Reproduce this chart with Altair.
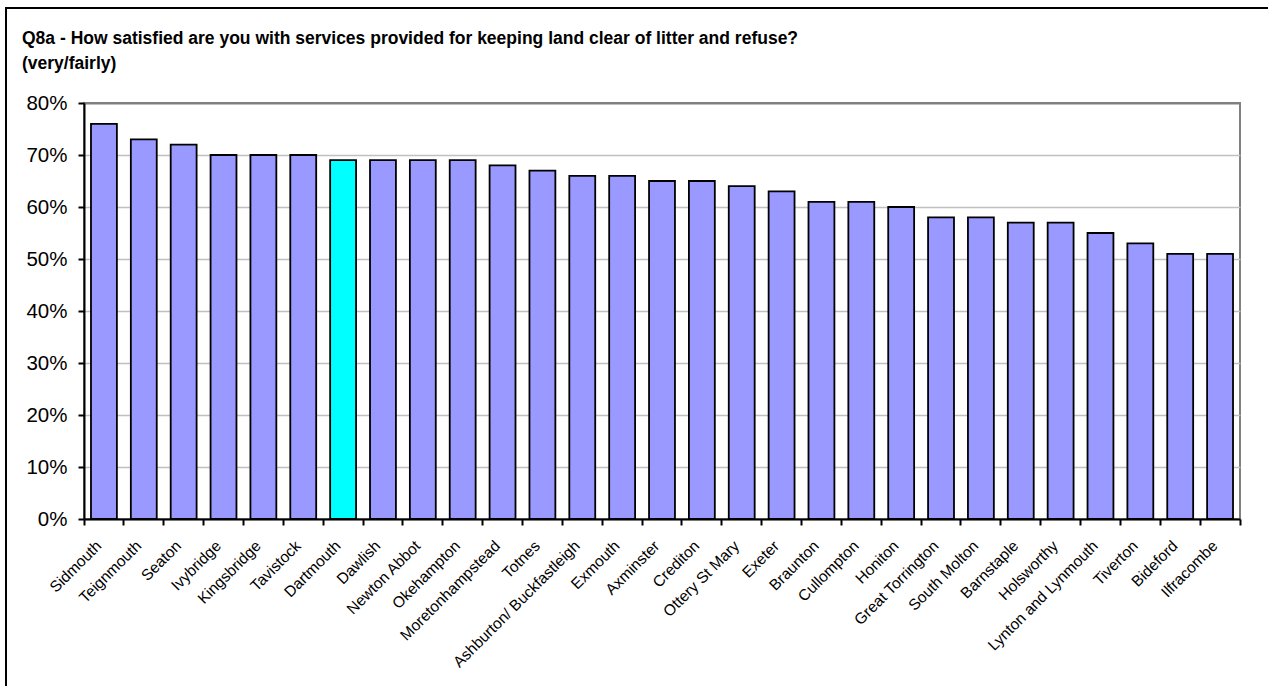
import altair as alt
import pandas as pd

# Survey results: share of respondents very/fairly satisfied, by town
towns = [
    "Sidmouth", "Teignmouth", "Seaton", "Ivybridge", "Kingsbridge", "Tavistock",
    "Dartmouth", "Dawlish", "Newton Abbot", "Okehampton", "Moretonhampstead",
    "Totnes", "Ashburton/ Buckfastleigh", "Exmouth", "Axminster", "Crediton",
    "Ottery St Mary", "Exeter", "Braunton", "Cullompton", "Honiton",
    "Great Torrington", "South Molton", "Barnstaple", "Holsworthy",
    "Lynton and Lynmouth", "Tiverton", "Bideford", "Ilfracombe",
]
satisfied_pct = [
    76, 73, 72, 70, 70, 70,
    69, 69, 69, 69, 68,
    67, 66, 66, 65, 65,
    64, 63, 61, 61, 60,
    58, 58, 57, 57,
    55, 53, 51, 51,
]
highlight_town = "Dartmouth"
y_ticks = [0, 0.1, 0.2, 0.3, 0.4, 0.5, 0.6, 0.7, 0.8]
title_lines = [
    "Q8a - How satisfied are you with services provided for keeping land clear of litter and refuse?",
    "(very/fairly)",
]

df = pd.DataFrame({"town": towns, "share": [v / 100 for v in satisfied_pct]})

PLOT_W, PLOT_H = 1156, 416
PAD = {"left": 84, "top": 103, "right": 28, "bottom": 167}
FONT = "Liberation Sans"

bars = alt.Chart(df).mark_bar(
    width=alt.RelativeBandSize(0.65), stroke="black", strokeWidth=1.8
).encode(
    x=alt.X(
        "town:N",
        sort=None,
        title=None,
        scale=alt.Scale(paddingInner=0, paddingOuter=0),
        axis=alt.Axis(
            bandPosition=1,
            tickExtra=True,
            labelAngle=315,
            labelAlign="right",
            labelBaseline="top",
            labelOffset=-10,
            labelPadding=13,
            labelFontSize=15.5,
            labelFont=FONT,
            labelColor="black",
            labelLimit=400,
            labelOverlap=False,
            labelBound=False,
            labelFlush=False,
            domainColor="black",
            domainWidth=2,
            tickColor="black",
            tickWidth=2,
            tickSize=6,
            grid=False,
        ),
    ),
    y=alt.Y(
        "share:Q",
        title=None,
        scale=alt.Scale(domain=[0, 0.8], nice=False),
        axis=alt.Axis(
            values=y_ticks,
            format=".0%",
            labelFontSize=20.5,
            labelFont=FONT,
            labelColor="black",
            labelPadding=11,
            domainColor="black",
            domainWidth=2,
            tickColor="black",
            tickWidth=2,
            tickSize=6,
            grid=True,
            gridColor=alt.condition("datum.value >= 0.8", alt.value("#808080"), alt.value("#C0C0C0")),
            gridWidth=alt.condition("datum.value >= 0.8", alt.value(2), alt.value(1.5)),
        ),
    ),
    fill=alt.condition(
        alt.datum.town == highlight_town, alt.value("#00FFFF"), alt.value("#9999FF")
    ),
)

# Outer frame around the whole figure
frame = alt.Chart(alt.Data(values=[{}])).mark_rect(
    fill=None, stroke="black", strokeWidth=2
).encode(
    x=alt.value(-PAD["left"] + 6),
    y=alt.value(-PAD["top"] + 8),
    x2=alt.value(PLOT_W + PAD["right"] + 10),
    y2=alt.value(PLOT_H + PAD["bottom"] + 10),
)

chart = alt.layer(frame, bars).properties(
    width=PLOT_W,
    height=PLOT_H,
    padding=PAD,
    autosize=alt.AutoSizeParams(type="none"),
    background="white",
    title=alt.Title(
        title_lines,
        anchor="start",
        frame="group",
        dx=-62,
        dy=65,
        offset=0,
        font=FONT,
        fontSize=17.5,
        fontWeight="bold",
        color="black",
        lineHeight=25,
    ),
).configure_view(
    stroke="#808080", strokeWidth=2
)

chart.save("out.html", embed_options={"renderer": "svg", "actions": False})
